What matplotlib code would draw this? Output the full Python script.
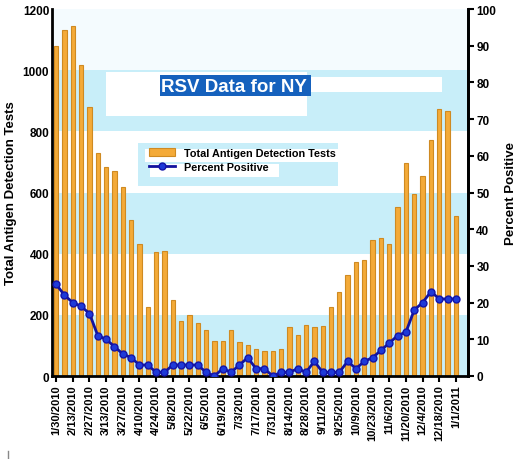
import matplotlib
matplotlib.use("Agg")
import matplotlib.pyplot as plt
from matplotlib.patches import Rectangle
import numpy as np

plt.rcParams['font.family'] = ['Liberation Sans', 'DejaVu Sans']

weeks = ["1/30/2010", "2/6/2010", "2/13/2010", "2/20/2010", "2/27/2010", "3/6/2010",
         "3/13/2010", "3/20/2010", "3/27/2010", "4/3/2010", "4/10/2010", "4/17/2010",
         "4/24/2010", "5/1/2010", "5/8/2010", "5/15/2010", "5/22/2010", "5/29/2010",
         "6/5/2010", "6/12/2010", "6/19/2010", "6/26/2010", "7/3/2010", "7/10/2010",
         "7/17/2010", "7/24/2010", "7/31/2010", "8/7/2010", "8/14/2010", "8/21/2010",
         "8/28/2010", "9/4/2010", "9/11/2010", "9/18/2010", "9/25/2010", "10/2/2010",
         "10/9/2010", "10/16/2010", "10/23/2010", "10/30/2010", "11/6/2010", "11/13/2010",
         "11/20/2010", "11/27/2010", "12/4/2010", "12/11/2010", "12/18/2010", "12/25/2010",
         "1/1/2011"]

total_tests = [1078, 1131, 1143, 1017, 881, 730, 683, 670, 617, 509, 430, 225,
               405, 410, 249, 181, 200, 174, 151, 114, 116, 152, 110, 102,
               89, 82, 82, 87, 160, 133, 168, 160, 162, 225, 274, 329,
               372, 380, 446, 450, 432, 554, 695, 595, 655, 772, 873, 865,
               522]

percent_positive = [25, 22, 20, 19, 17, 11, 10, 8, 6, 5, 3, 3,
                    1, 1, 3, 3, 3, 3, 1, 0, 2, 1, 3, 5,
                    2, 2, 0, 1, 1, 2, 1, 4, 1, 1, 1, 4,
                    2, 4, 5, 7, 9, 11, 12, 18, 20, 23, 21, 21,
                    21]

left_ticks = [0, 200, 400, 600, 800, 1000, 1200]
right_ticks = [0, 10, 20, 30, 40, 50, 60, 70, 80, 90, 100]

W, H = 520, 460
fig = plt.figure(figsize=(W / 100, H / 100), dpi=100)
ax = fig.add_axes([52 / W, 1 - 377 / H, (468 - 52) / W, (377 - 10) / H])

x = np.arange(len(weeks))

# background bands
band_color = '#c8eef9'
for lo in (0, 400, 800):
    ax.axhspan(lo, lo + 200, color=band_color, zorder=0, lw=0)
ax.axhspan(1000, 1200, color='#f4fbfe', zorder=0, lw=0)

bars = ax.bar(x, total_tests, width=0.52, color='#f4aa38', edgecolor='#cf8a22',
              linewidth=0.8, zorder=2, label='Total Antigen Detection Tests')

ax.set_xlim(-0.5, len(weeks) - 1 + 1.45)
ax.set_ylim(0, 1200)
ax.set_yticks(left_ticks)
ax.set_yticklabels([str(t) for t in left_ticks], fontweight='bold', fontsize=8.5)
ax.tick_params(axis='y', length=0, pad=2)
ax.set_xticks(x[::2])
ax.set_xticklabels(weeks[::2], rotation=90, fontweight='bold', fontsize=8)
ax.tick_params(axis='x', direction='out', length=4, width=1.5, pad=2)
ax.spines['top'].set_visible(False)
for s in ('left', 'bottom', 'right'):
    ax.spines[s].set_linewidth(2)
ax.set_ylabel('Total Antigen Detection Tests', fontweight='bold', fontsize=9.5, labelpad=4)

ax2 = ax.twinx()
ax2.set_ylim(0, 100)
line, = ax2.plot(x, percent_positive, color='#12129e', lw=2, marker='o', markersize=5,
                 markerfacecolor='#1e3ad8', markeredgecolor='#1414a8', zorder=3,
                 label='Percent Positive')
ax2.set_yticks(right_ticks)
ax2.set_yticklabels([str(t) for t in right_ticks], fontweight='bold', fontsize=8.5)
ax2.tick_params(axis='y', direction='out', length=4, width=1.5, pad=2)
for s in ('top', 'left', 'bottom'):
    ax2.spines[s].set_visible(False)
ax2.spines['right'].set_linewidth(2)
ax2.set_ylabel('Percent Positive', fontweight='bold', fontsize=9.5, labelpad=6)
ax.set_zorder(ax2.get_zorder() - 1)
ax2.patch.set_visible(False)

def frect(x0, y0, x1, y1, color, z=1):
    fig.patches.append(Rectangle((x0 / W, 1 - y1 / H), (x1 - x0) / W, (y1 - y0) / H,
                                 transform=fig.transFigure, color=color, lw=0, zorder=z))

# title boxes
frect(106, 73, 307, 117, 'white')
frect(307, 78, 442, 93, 'white')
frect(160, 76, 311, 97, '#1561bd', z=2)
fig.text(161 / W, 1 - 87 / H, 'RSV Data for NY', color='white', fontweight='bold',
         fontsize=13.5, va='center', ha='left', zorder=3)

# legend background
frect(138, 144, 338, 187, band_color)
frect(145, 150, 338, 163, 'white', z=1.5)
frect(150, 165, 279, 178, 'white', z=1.5)
leg = fig.legend(handles=[bars, line], labels=['Total Antigen Detection Tests', 'Percent Positive'],
                 loc='upper left', bbox_to_anchor=(148 / W, 1 - 148 / H), frameon=False,
                 prop={'weight': 'bold', 'size': 7.8}, handlelength=2.4, handleheight=0.8,
                 labelspacing=0.4, handletextpad=0.8, borderaxespad=0, borderpad=0.1)

fig.add_artist(plt.Line2D([8 / W, 8 / W], [1 - 452 / H, 1 - 460 / H], color='#888888', lw=1,
                          transform=fig.transFigure))

fig.savefig('out.png', dpi=100)
